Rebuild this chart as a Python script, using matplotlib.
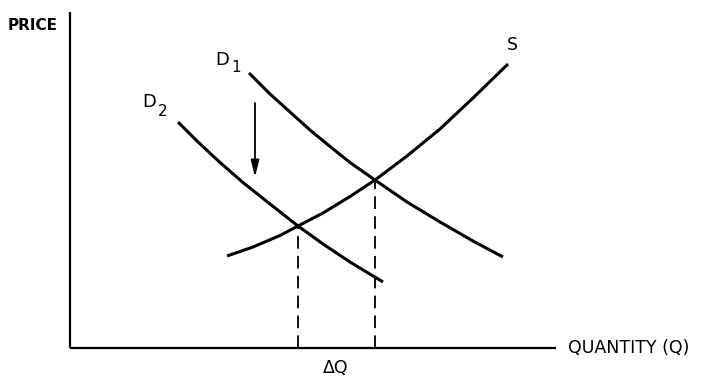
import matplotlib
matplotlib.use("Agg")
import matplotlib.pyplot as plt

# Data (x = quantity units, y = price units; origin at axis corner)
d1_x = [179, 200, 220, 240, 260, 280, 305, 337, 370, 403, 433]
d1_y = [275, 254, 236, 218, 201.5, 185.5, 168, 146, 126, 107, 91]
d2_x = [108, 127, 150, 173, 200, 228, 253, 280, 313]
d2_y = [226, 207, 185.5, 165.5, 144, 122, 104, 86, 66]
s_x = [157, 183, 210, 228, 253, 280, 305, 337, 370, 403, 438]
s_y = [92, 101, 112.5, 122, 135, 151.5, 168, 192, 219, 250, 284]
eq1 = (305, 168)
eq2 = (228, 122)
arrow_x = 185
arrow_y = (245, 171)

fig = plt.figure(figsize=(7.16, 3.79), dpi=100)
ax = fig.add_axes([0, 0, 1, 1])
ax.set_xlim(-70, 646)
ax.set_ylim(-31, 348)
ax.axis("off")

lw = 2.2
# axes
ax.plot([0, 0], [0, 336], color="black", lw=1.6, solid_capstyle="butt")
ax.plot([0, 486], [0, 0], color="black", lw=1.6, solid_capstyle="butt")

for xs, ys in ((d1_x, d1_y), (d2_x, d2_y), (s_x, s_y)):
    ax.plot(xs, ys, color="black", lw=lw, solid_capstyle="butt", solid_joinstyle="round")

for ex, ey in (eq1, eq2):
    ax.plot([ex, ex], [0, ey], color="black", lw=1.3, ls=(0, (7, 4)))

ax.annotate("", xy=(arrow_x, arrow_y[1]), xytext=(arrow_x, arrow_y[0]),
            arrowprops=dict(arrowstyle="-|>,head_length=1.0,head_width=0.25",
                            color="black", lw=1.3, shrinkA=0, shrinkB=0))

font = dict(family="DejaVu Sans", color="black")
ax.text(-62, 323, "PRICE", fontsize=11, fontweight="bold", va="center", ha="left", **font)
ax.text(498, 0, "QUANTITY (Q)", fontsize=12.5, va="center", ha="left", **font)
ax.text(266, -20, "ΔQ", fontsize=12.5, va="center", ha="center", **font)
ax.text(442, 303, "S", fontsize=12.5, va="center", ha="center", **font)
ax.text(145, 288, "D", fontsize=13, va="center", ha="left", **font)
ax.text(161, 280, "1", fontsize=11, va="center", ha="left", **font)
ax.text(72, 246, "D", fontsize=13, va="center", ha="left", **font)
ax.text(88, 237, "2", fontsize=11, va="center", ha="left", **font)

fig.savefig("out.png", dpi=100)
